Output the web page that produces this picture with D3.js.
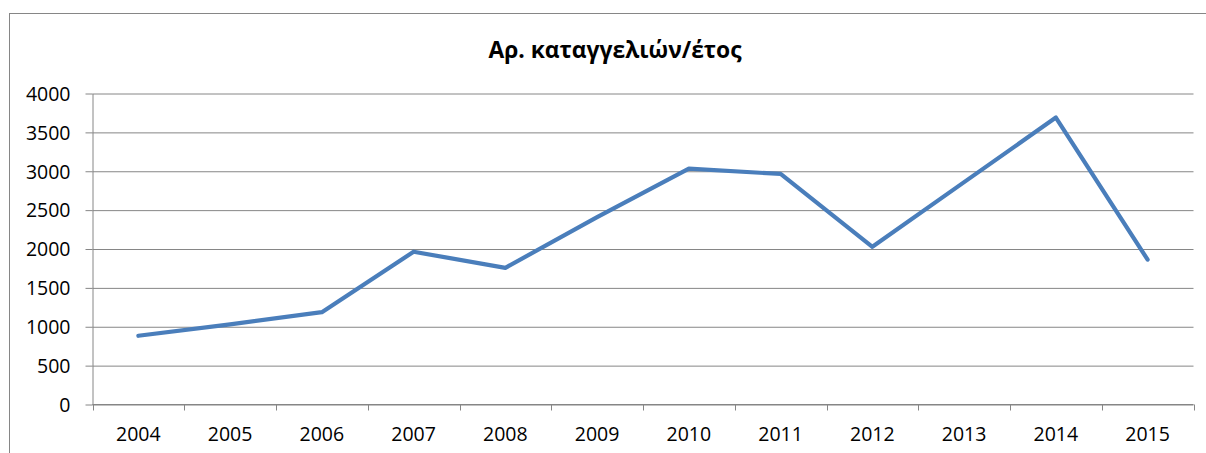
<!DOCTYPE html>
<html>
<head>
<meta charset="utf-8">
<script src="https://cdn.jsdelivr.net/npm/d3@7"></script>
<style>
  html, body { margin: 0; padding: 0; background: #fff; overflow: hidden; }
  svg text { font-family: "Open Sans", "Noto Sans", sans-serif; fill: #000; }
  .tick-label { font-size: 19.5px; }
  .title-text { font-size: 22.8px; font-weight: bold; }
</style>
</head>
<body>
<div id="chart-container"></div>
<script>
// chart data
const years = ["2004", "2005", "2006", "2007", "2008", "2009", "2010", "2011", "2012", "2013", "2014", "2015"];
const complaints = [884, 1030, 1188, 1965, 1758, 2410, 3034, 2965, 2028, 2860, 3691, 1863];
const yTicks = [0, 500, 1000, 1500, 2000, 2500, 3000, 3500, 4000];
const title = "Αρ. καταγγελιών/έτος";

const width = 1206;
const height = 453;
const gridColor = "#868686";

const svg = d3.select("#chart-container")
  .append("svg")
  .attr("width", width)
  .attr("height", height)
  .style("display", "block");

// outer chart border (right and bottom run off the picture)
svg.append("rect")
  .attr("x", 9.5)
  .attr("y", 13.5)
  .attr("width", 1230)
  .attr("height", 500)
  .attr("fill", "none")
  .attr("stroke", gridColor)
  .attr("stroke-width", 1);

// scales
const xScale = d3.scaleBand()
  .domain(years)
  .range([92.5, 1193.5])
  .padding(0);

const yScale = d3.scaleLinear()
  .domain([0, 4000])
  .range([404.5, 93.5]);

// horizontal gridlines + y axis
const yAxis = svg.append("g")
  .attr("class", "y-axis")
  .attr("transform", "translate(92.5,0)")
  .call(d3.axisLeft(yScale)
    .tickValues(yTicks)
    .tickFormat(d3.format("d"))
    .tickSize(7)
    .tickSizeOuter(0)
    .tickPadding(15));

yAxis.selectAll(".tick line").clone()
  .attr("x2", 1101)
  .attr("stroke", gridColor);

yAxis.select(".domain").attr("stroke", gridColor);
yAxis.selectAll(".tick line").attr("stroke", gridColor);
yAxis.selectAll(".tick text")
  .attr("class", "tick-label")
  .attr("font-family", null)
  .attr("font-size", null)
  .attr("dy", "0.35em");

// x axis with tick marks between categories
const xAxis = svg.append("g")
  .attr("class", "x-axis")
  .attr("transform", "translate(0,404.5)");

xAxis.append("line")
  .attr("x1", xScale.range()[0])
  .attr("x2", xScale.range()[1])
  .attr("stroke", gridColor);

const bounds = years.map(d => xScale(d)).concat([xScale.range()[1]]);
xAxis.selectAll(".xtick")
  .data(bounds)
  .enter()
  .append("line")
  .attr("class", "xtick")
  .attr("x1", d => Math.round(d) + 0.5)
  .attr("x2", d => Math.round(d) + 0.5)
  .attr("y1", 0)
  .attr("y2", 6)
  .attr("stroke", gridColor);

xAxis.selectAll(".xlabel")
  .data(years)
  .enter()
  .append("text")
  .attr("class", "tick-label")
  .attr("x", d => xScale(d) + xScale.bandwidth() / 2)
  .attr("y", 36.5)
  .attr("text-anchor", "middle")
  .text(d => d);

// the line
const line = d3.line()
  .x((d, i) => xScale(years[i]) + xScale.bandwidth() / 2)
  .y(d => yScale(d));

svg.append("path")
  .datum(complaints)
  .attr("fill", "none")
  .attr("stroke", "#4A7EBB")
  .attr("stroke-width", 4.2)
  .attr("stroke-linejoin", "round")
  .attr("stroke-linecap", "round")
  .attr("d", line);

// title
svg.append("text")
  .attr("class", "title-text")
  .attr("x", 615)
  .attr("y", 58)
  .attr("text-anchor", "middle")
  .text(title);
</script>
</body>
</html>
